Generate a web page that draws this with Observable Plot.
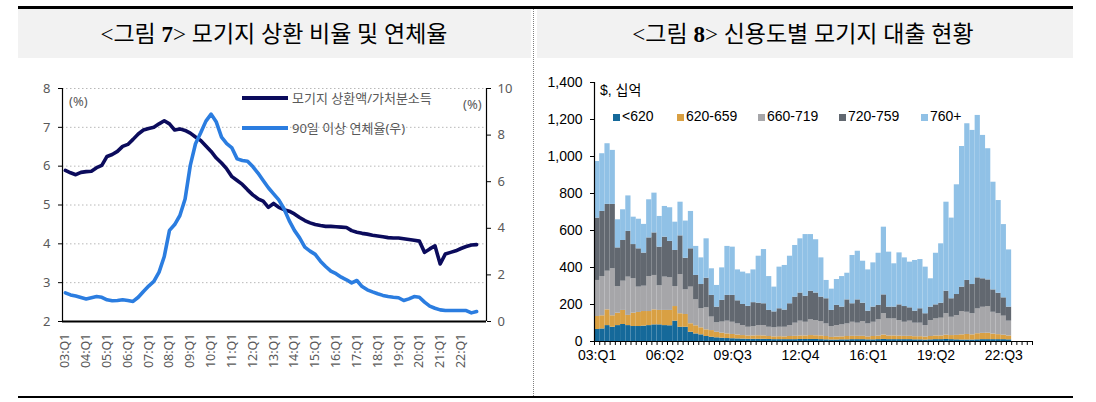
<!DOCTYPE html>
<html><head><meta charset="utf-8">
<script src="https://cdn.jsdelivr.net/npm/d3@7"></script>
<script src="https://cdn.jsdelivr.net/npm/@observablehq/plot@0.6"></script>
<style>
body{margin:0;background:#fff;}
#page{position:relative;width:1096px;height:402px;overflow:hidden;background:#fff;}
.abs{position:absolute;}
.tbg{position:absolute;top:9px;height:49px;background:#f2f2f2;}
.ttl{position:absolute;top:9px;height:49px;line-height:52px;text-align:center;font-family:"Liberation Serif","Noto Sans CJK KR",serif;font-size:23px;color:#000;white-space:nowrap;}
.lg{position:absolute;font-family:"Noto Sans","Noto Sans CJK KR",sans-serif;font-size:13px;color:#595959;white-space:nowrap;line-height:16px;}
.rg{position:absolute;font-family:"Liberation Sans",Arial,"Noto Sans CJK KR",sans-serif;font-size:14px;color:#000;white-space:nowrap;line-height:16px;}
.sw{display:inline-block;width:7px;height:7px;margin-right:2px;vertical-align:0px;}
#left,#right{position:absolute;top:60px;}
#left{left:0;}
#right{left:540px;}
</style></head>
<body><div id="page">
<div class="abs" style="left:18px;top:6px;width:1055px;height:3px;background:#000"></div>
<div class="tbg" style="left:18px;width:513px"></div>
<div class="tbg" style="left:537px;width:536px"></div>
<div class="ttl" style="left:18px;width:512px">&lt;그림 <b>7</b>&gt; 모기지 상환 비율 및 연체율</div>
<div class="ttl" style="left:537px;width:532px">&lt;그림 <b>8</b>&gt; 신용도별 모기지 대출 현황</div>
<div class="abs" style="left:533px;top:9px;height:387px;border-left:1px dotted #808080"></div>
<div class="abs" style="left:18px;top:396px;width:1055px;height:2px;background:#000"></div>
<div id="left"></div>
<div id="right"></div>
<div id="overlay"></div>
</div>
<script>
// ---------- Figure 7 data (03:Q1 .. 22:Q4) ----------
const leftTickLabels = ["03:Q1","04:Q1","05:Q1","06:Q1","07:Q1","08:Q1","09:Q1","10:Q1","11:Q1","12:Q1",
  "13:Q1","14:Q1","15:Q1","16:Q1","17:Q1","18:Q1","19:Q1","20:Q1","21:Q1","22:Q1"];
const debtServiceRatio = [5.89,5.83,5.78,5.84,5.86,5.87,5.96,6.02,6.25,6.30,6.38,6.51,6.56,6.69,6.83,6.93,6.97,7.00,7.09,7.17,
  7.09,6.93,6.96,6.92,6.85,6.75,6.66,6.52,6.38,6.21,6.08,5.93,5.73,5.63,5.53,5.39,5.26,5.16,5.10,4.94,
  5.04,4.94,4.88,4.84,4.77,4.68,4.60,4.54,4.50,4.47,4.45,4.45,4.44,4.43,4.42,4.34,4.30,4.27,4.25,4.22,
  4.20,4.18,4.16,4.15,4.15,4.13,4.11,4.09,4.07,3.78,3.87,3.95,3.48,3.74,3.78,3.82,3.88,3.93,3.97,3.98];
const delinquency90 = [1.23,1.14,1.09,1.03,0.97,1.02,1.07,1.04,0.93,0.89,0.90,0.93,0.90,0.86,1.04,1.29,1.52,1.72,2.12,2.79,
  3.91,4.16,4.55,5.26,6.70,7.63,8.10,8.60,8.90,8.56,7.91,7.63,7.45,6.98,6.91,6.88,6.65,6.37,6.05,5.74,
  5.48,5.22,4.84,4.33,3.91,3.59,3.19,3.02,2.88,2.59,2.36,2.16,2.05,1.90,1.79,1.66,1.76,1.50,1.36,1.27,
  1.19,1.12,1.07,1.04,1.02,0.90,0.97,1.07,1.04,0.83,0.66,0.57,0.50,0.47,0.47,0.47,0.47,0.47,0.37,0.43];
const leftYTicks = [2,3,4,5,6,7,8];
const rightYTicks = [0,2,4,6,8,10];
const seriesNamesL = ["모기지 상환액/가처분소득","90일 이상 연체율(우)"];
const seriesColorsL = ["#0b0b5c","#2b7de0"];

// ---------- Figure 8 data (03:Q1 .. 22:Q4), $ billions ----------
const barTickLabels = ["03:Q1","06:Q2","09:Q3","12:Q4","16:Q1","19:Q2","22:Q3"];
const barTickIndex = [0,13,26,39,52,65,78];
const creditCats = ["<620","620-659","660-719","720-759","760+"];
const creditColors = ["#15699a","#d9a043","#a6a6a9","#626870","#90c1e6"];
const below620 = [65,68,86,77,86,92,86,81,81,83,86,90,90,86,85,110,77,77,50,41,36,27,23,20,18,16,
  15,14,13,12,12,12,12,11,10,10,10,10,10,11,11,11,11,10,
  9,8,8,9,9,10,10,10,9,9,10,11,10,10,10,10,10,9,9,8,9,10,10,11,10,9,8,8,8,9,10,10,10,10,10,9];
const s620_659 = [70,71,85,62,67,76,55,72,76,79,76,81,78,82,83,79,73,69,46,44,38,36,36,30,27,25,
  23,21,19,18,18,19,18,16,15,16,15,17,18,19,19,21,20,20,
  18,14,16,16,18,18,18,18,16,18,19,24,20,20,19,18,18,17,17,16,18,20,20,23,22,24,28,30,28,33,34,35,30,27,24,21];
const s660_719 = [195,212,209,254,144,158,207,186,137,137,189,186,133,180,176,108,212,133,198,140,103,119,73,51,60,69,
  66,60,54,47,51,55,56,50,49,51,52,59,71,80,74,85,82,78,
  68,59,62,65,68,76,71,80,70,77,88,115,92,92,84,76,82,73,73,62,86,92,96,116,99,107,126,120,114,134,141,144,118,113,103,80];
const s720_759 = [337,352,361,348,209,220,247,185,207,179,209,230,209,216,197,195,209,171,207,132,131,160,117,85,117,139,
  145,125,114,113,129,121,118,91,86,100,93,118,141,152,141,155,149,132,
  136,87,109,96,130,100,126,99,69,82,78,102,64,64,85,85,72,65,78,64,73,76,81,122,100,114,132,172,158,168,154,144,121,111,99,76];
const s760plus = [306,312,328,292,152,166,192,148,160,155,206,215,166,166,182,153,182,201,202,157,144,213,144,117,176,265,
  261,167,175,176,177,254,293,183,134,225,241,257,279,293,333,306,288,212,
  99,115,140,165,144,261,263,227,223,239,282,366,297,234,281,263,247,274,266,252,153,279,321,481,436,593,760,847,833,878,775,709,582,501,396,309];
const barYTicks = [0,200,400,600,800,1000,1200,1400];
const slotCount = 84; // axis runs 03:Q1 .. 23:Q4

// ---------- Figure 7 chart ----------
const xDomL = [-0.55, 80.9];
const toLeft = v => 2 + v * 0.6; // right-axis (0..10) onto left scale (2..8)
const rowsL = debtServiceRatio.map((v, i) => ({i, v}));
const rowsL2 = delinquency90.map((v, i) => ({i, v}));
const fontL = '"Noto Sans","Noto Sans CJK KR",sans-serif';

const left = Plot.plot({
  width: 540, height: 320,
  marginLeft: 62, marginRight: 54, marginTop: 28, marginBottom: 59,
  x: {type: "linear", domain: xDomL, axis: null},
  y: {domain: [2, 8], axis: null},
  style: {fontFamily: fontL, fontSize: "13px", color: "#595959", background: "transparent", overflow: "visible"},
  marks: [
    Plot.gridY(leftYTicks.slice(1), {stroke: "#b8b8b8", strokeOpacity: 1, strokeDasharray: "1.5,2.5"}),
    Plot.ruleX([xDomL[0], xDomL[1]], {stroke: "#000", strokeWidth: 1.2}),
    Plot.ruleY([2], {stroke: "#000", strokeWidth: 2}),
    Plot.axisY(leftYTicks, {anchor: "left", label: null, tickSize: 4, tickPadding: 8, stroke: "#000", fill: "#595959"}),
    Plot.axisY(rightYTicks.map(toLeft), {anchor: "right", label: null, tickSize: 4, tickPadding: 7, stroke: "#000", fill: "#595959",
      tickFormat: d => String(Math.round((d - 2) / 0.6))}),
    Plot.axisX(leftTickLabels.map((_, k) => 4 * k), {anchor: "bottom", label: null, tickSize: 0, tickPadding: 12, tickRotate: -90,
      fontSize: 12.5, fill: "#595959", tickFormat: d => leftTickLabels[Math.round(d / 4)]}),
    Plot.line(rowsL, {x: "i", y: "v", stroke: seriesColorsL[0], strokeWidth: 3.6, strokeLinejoin: "round"}),
    Plot.line(rowsL2, {x: "i", y: d => toLeft(d.v), stroke: seriesColorsL[1], strokeWidth: 3.6, strokeLinejoin: "round"})
  ]
});
document.getElementById("left").appendChild(left);

// ---------- Figure 8 chart ----------
const seriesB = [below620, s620_659, s660_719, s720_759, s760plus];
const rowsB = [];
seriesB.forEach((arr, c) => arr.forEach((v, i) => rowsB.push({i, j: i + 1, cat: creditCats[c], v})));

const right = Plot.plot({
  width: 556, height: 320,
  marginLeft: 54, marginRight: 64, marginTop: 22, marginBottom: 39,
  x: {type: "linear", domain: [0, slotCount], axis: null},
  y: {domain: [0, 1400], axis: null},
  color: {domain: creditCats, range: creditColors},
  style: {fontFamily: '"Liberation Sans",Arial,sans-serif', fontSize: "14px", color: "#000", background: "transparent", overflow: "visible"},
  marks: [
    Plot.rect(rowsB, Plot.stackY({x: "i", x1: "i", x2: "j", y: "v", fill: "cat", order: null})),
    Plot.ruleX([0], {stroke: "#000", strokeWidth: 1.2}),
    Plot.ruleY([0], {stroke: "#000", strokeWidth: 1.2}),
    Plot.axisY(barYTicks, {anchor: "left", label: null, tickSize: 4, tickPadding: 8, tickFormat: d3.format(",")}),
    Plot.axisX(d3.range(slotCount + 1), {anchor: "bottom", label: null, tickSize: 4, tickFormat: () => ""}),
    Plot.axisX(barTickIndex.map(k => k + 0.5), {anchor: "bottom", label: null, tickSize: 0, tickPadding: 9,
      tickFormat: d => barTickLabels[barTickIndex.indexOf(Math.round(d - 0.5))]})
  ]
});
document.getElementById("right").appendChild(right);

// ---------- legends / unit labels ----------
const ov = document.getElementById("overlay");
function add(html, cls, style) { const e = document.createElement("div"); e.className = cls; e.setAttribute("style", style); e.innerHTML = html; ov.appendChild(e); }
add("(%)", "lg", "left:69px;top:93px");
add("(%)", "lg", "left:463px;top:96px");
seriesNamesL.forEach((name, k) => {
  add("", "abs", `left:242px;top:${96 + 30 * k}px;width:46px;height:4px;background:${seriesColorsL[k]}`);
  add(name, "lg", `left:292px;top:${90 + 30 * k}px`);
});
add("$, 십억", "rg", "left:600px;top:82px");
const legX = [613, 677, 758, 839, 921];
creditCats.forEach((c, k) => {
  add(`<span class="sw" style="background:${creditColors[k]}"></span>${c.replace("<", "&lt;")}`, "rg", `left:${legX[k]}px;top:108px`);
});
</script>
</body></html>
